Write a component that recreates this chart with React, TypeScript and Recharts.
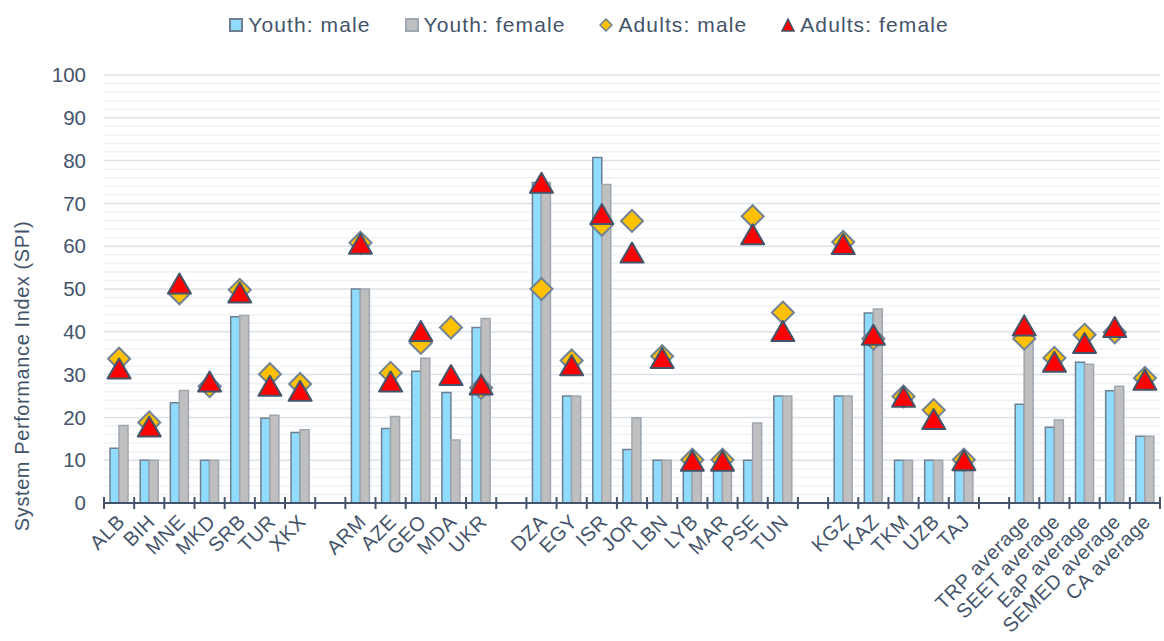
import React from "react";
import {
  Bar,
  CartesianGrid,
  ComposedChart,
  Legend,
  Line,
  XAxis,
  YAxis,
} from "recharts";

const CATEGORIES = [
  "ALB", "BIH", "MNE", "MKD", "SRB", "TUR", "XKX", "",
  "ARM", "AZE", "GEO", "MDA", "UKR", "",
  "DZA", "EGY", "ISR", "JOR", "LBN", "LYB", "MAR", "PSE", "TUN", "",
  "KGZ", "KAZ", "TKM", "UZB", "TAJ", "",
  "TRP average", "SEET average", "EaP average", "SEMED average", "CA average",
];

const YOUTH_MALE = [
  12.8, 10, 23.4, 10, 43.5, 19.8, 16.5, null,
  50, 17.4, 30.8, 25.8, 41.0, null,
  74.9, 25, 80.7, 12.5, 10, 7.8, 7.8, 10, 25, null,
  25, 44.4, 10, 10, 7.6, null,
  23.1, 17.7, 32.9, 26.2, 15.6,
];

const YOUTH_FEMALE = [
  18.1, 10, 26.3, 10, 43.8, 20.5, 17.1, null,
  50, 20.2, 33.8, 14.7, 43.1, null,
  74.9, 25, 74.4, 19.9, 10, 7.8, 7.8, 18.7, 25, null,
  25, 45.3, 10, 10, 7.6, null,
  38.2, 19.4, 32.4, 27.3, 15.6,
];

const ADULTS_MALE = [
  33.7, 18.8, 49.0, 27.3, 49.8, 30.1, 27.8, null,
  60.8, 30.4, 37.4, 41.0, 26.9, null,
  50, 33.3, 65.0, 65.9, 34.3, 10.1, 10.1, 67.0, 44.5, null,
  61.0, 38.4, 24.9, 21.7, 10.1, null,
  38.4, 33.9, 39.3, 39.9, 29.2,
];

const ADULTS_FEMALE = [
  31.4, 17.9, 51.3, 28.4, 49.2, 27.4, 26.2, null,
  60.6, 28.4, 40.2, 29.9, 27.7, null,
  74.8, 32.2, 67.5, 58.5, 33.9, 9.9, 9.9, 62.8, 40.2, null,
  60.5, 39.3, 24.8, 19.6, 10, null,
  41.5, 33.0, 37.4, 41.1, 28.8,
];

const Y_TICKS = [0, 10, 20, 30, 40, 50, 60, 70, 80, 90, 100];
const MINOR_GRID = Array.from({ length: 51 }, (_, i) => i * 2).filter(
  (v) => v % 10 !== 0
);

const TEXT = "#44546a";
const FONT = "'Liberation Sans', Arial, sans-serif";
const BLUE = "#8fdcff";
const GRAY = "#bfbfbf";
const GOLD = "#ffc000";
const RED = "#ff0000";

const WIDTH = 1164;
const HEIGHT = 641;
const MARGIN = { top: 25, right: 4, bottom: 8, left: 0 };
const Y_AXIS_WIDTH = 104;
const BAND = (WIDTH - Y_AXIS_WIDTH - MARGIN.right - MARGIN.left) / CATEGORIES.length;

const data = CATEGORIES.map((name, i) => ({
  key: i,
  name,
  youthMale: YOUTH_MALE[i],
  youthFemale: YOUTH_FEMALE[i],
  adultsMale: ADULTS_MALE[i],
  adultsFemale: ADULTS_FEMALE[i],
}));

function Diamond({ cx, cy, r = 11 }: any) {
  if (cx == null || cy == null || Number.isNaN(cy)) return <g />;
  return (
    <path
      d={`M${cx},${cy - r}L${cx + r},${cy}L${cx},${cy + r}L${cx - r},${cy}Z`}
      fill={GOLD}
      stroke="#6f8296"
      strokeWidth={2}
    />
  );
}

function Triangle({ cx, cy, w = 23, h = 20 }: any) {
  if (cx == null || cy == null || Number.isNaN(cy)) return <g />;
  return (
    <path
      d={`M${cx},${cy - h / 2}L${cx + w / 2},${cy + h / 2}L${cx - w / 2},${cy + h / 2}Z`}
      fill={RED}
      stroke={TEXT}
      strokeWidth={2}
      strokeLinejoin="round"
    />
  );
}

function CategoryTick({ x, y, payload, index }: any) {
  const label = CATEGORIES[payload.value] ?? "";
  const left = x - BAND / 2;
  const isLast = index === CATEGORIES.length - 1;
  return (
    <g>
      <line x1={left} x2={left} y1={y - 6} y2={y + 6} stroke={TEXT} strokeWidth={2} />
      {isLast && (
        <line
          x1={x + BAND / 2}
          x2={x + BAND / 2}
          y1={y - 6}
          y2={y + 6}
          stroke={TEXT}
          strokeWidth={2}
        />
      )}
      {label && (
        <text
          transform={`translate(${x + 7},${y + 20}) rotate(-45)`}
          textAnchor="end"
          fontSize={20}
          letterSpacing={0.6}
          fontFamily={FONT}
          fill={TEXT}
        >
          {label}
        </text>
      )}
    </g>
  );
}

function YTitle() {
  return (
    <text
      x={22}
      y={376}
      transform="rotate(-90, 22, 376)"
      textAnchor="middle"
      dominantBaseline="central"
      fontSize={20}
      letterSpacing={0.6}
      fontFamily={FONT}
      fill={TEXT}
    >
      System Performance Index (SPI)
    </text>
  );
}

const LEGEND_ITEMS = [
  { label: "Youth: male", kind: "bar", fill: BLUE, stroke: "#6f7f8f" },
  { label: "Youth: female", kind: "bar", fill: GRAY, stroke: "#9ea7b0" },
  { label: "Adults: male", kind: "diamond", fill: GOLD, stroke: "#6f8296" },
  { label: "Adults: female", kind: "triangle", fill: RED, stroke: TEXT },
];

function LegendIcon({ kind, fill, stroke }: any) {
  return (
    <svg width={14} height={14} style={{ display: "block" }}>
      {kind === "bar" && (
        <rect x={1} y={1} width={12} height={12} fill={fill} stroke={stroke} strokeWidth={2} />
      )}
      {kind === "diamond" && (
        <path d="M7,1L13,7L7,13L1,7Z" fill={fill} stroke={stroke} strokeWidth={1.5} />
      )}
      {kind === "triangle" && (
        <path d="M7,1L13,13L1,13Z" fill={fill} stroke={stroke} strokeWidth={1.5} />
      )}
    </svg>
  );
}

function renderLegend() {
  return (
    <div
      style={{
        height: 50,
        display: "flex",
        justifyContent: "center",
        alignItems: "center",
        paddingLeft: 14,
        gap: 34,
        fontFamily: FONT,
        fontSize: 21,
        letterSpacing: 1.1,
        color: TEXT,
      }}
    >
      {LEGEND_ITEMS.map((item) => (
        <div key={item.label} style={{ display: "flex", alignItems: "center", gap: 5 }}>
          <LegendIcon {...item} />
          <span>{item.label}</span>
        </div>
      ))}
    </div>
  );
}

export default function App() {
  return (
    <div style={{ position: "absolute", left: 0, top: 0, background: "#fff" }}>
      <ComposedChart
        width={WIDTH}
        height={HEIGHT}
        data={data}
        margin={MARGIN}
        barCategoryGap="20%"
        barGap={0}
      >
        <Legend
          verticalAlign="top"
          align="center"
          content={renderLegend}
          wrapperStyle={{ top: 0, left: 0, width: WIDTH }}
        />
        <CartesianGrid
          vertical={false}
          horizontalValues={MINOR_GRID}
          stroke="#f0f2f5"
          strokeWidth={1.5}
        />
        <CartesianGrid vertical={false} stroke="#dce2e8" strokeWidth={1.5} />
        <XAxis
          dataKey="key"
          type="category"
          interval={0}
          tick={<CategoryTick />}
          tickLine={false}
          tickSize={0}
          tickMargin={0}
          axisLine={{ stroke: TEXT, strokeWidth: 2 }}
          height={130}
        />
        <YAxis
          domain={[0, 100]}
          ticks={Y_TICKS}
          interval={0}
          width={Y_AXIS_WIDTH}
          axisLine={false}
          tickLine={false}
          tickSize={0}
          tickMargin={18}
          tick={{ fontSize: 20.5, fill: TEXT, fontFamily: FONT }}
          label={<YTitle />}
        />
        <Bar
          dataKey="youthMale"
          fill={BLUE}
          stroke="#6f7f8f"
          strokeWidth={1.5}
          isAnimationActive={false}
        />
        <Bar
          dataKey="youthFemale"
          fill={GRAY}
          stroke="#9ea7b0"
          strokeWidth={1.5}
          isAnimationActive={false}
        />
        <Line
          dataKey="adultsMale"
          stroke="none"
          dot={(p: any) => <Diamond key={`d${p.index}`} cx={p.cx} cy={p.cy} />}
          activeDot={false}
          isAnimationActive={false}
        />
        <Line
          dataKey="adultsFemale"
          stroke="none"
          dot={(p: any) => <Triangle key={`t${p.index}`} cx={p.cx} cy={p.cy} />}
          activeDot={false}
          isAnimationActive={false}
        />
      </ComposedChart>
    </div>
  );
}
